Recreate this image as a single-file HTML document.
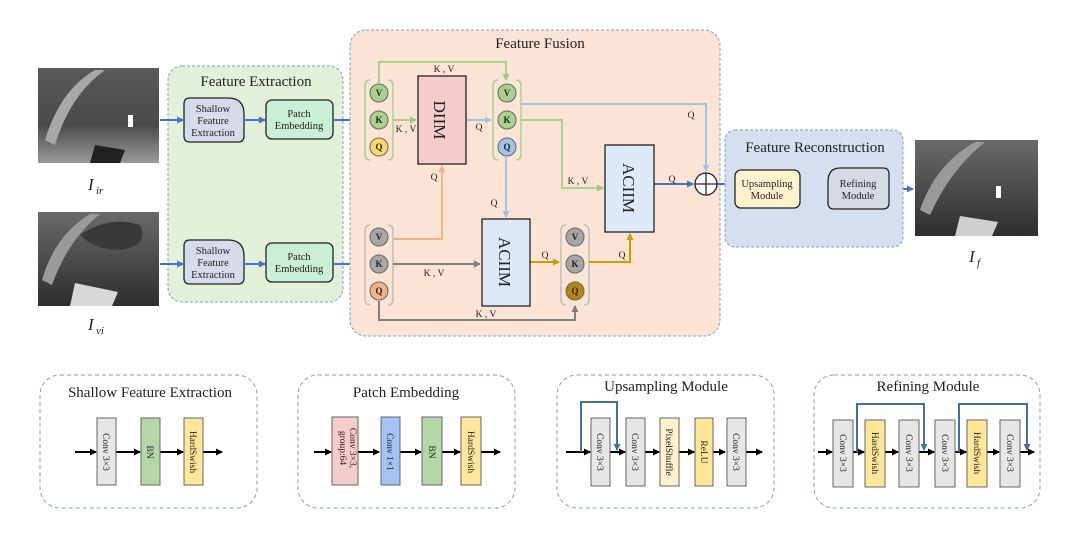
<!DOCTYPE html>
<html><head><meta charset="utf-8"><style>
html,body{margin:0;padding:0;background:#fff}
svg{display:block}
text{font-family:"Liberation Serif",serif;fill:#222}
</style></head><body>
<svg width="1080" height="536" viewBox="0 0 1080 536" xmlns="http://www.w3.org/2000/svg">
<defs>
<marker id="ab" markerWidth="8" markerHeight="8" refX="6" refY="4" orient="auto" markerUnits="userSpaceOnUse"><path d="M0,0.5 L7,4 L0,7.5 z" fill="#4472c4"/></marker>
<marker id="ag" markerWidth="8" markerHeight="8" refX="6" refY="4" orient="auto" markerUnits="userSpaceOnUse"><path d="M0,0.5 L7,4 L0,7.5 z" fill="#8fcf7a"/></marker>
<marker id="alb" markerWidth="8" markerHeight="8" refX="6" refY="4" orient="auto" markerUnits="userSpaceOnUse"><path d="M0,0.5 L7,4 L0,7.5 z" fill="#9dc3e6"/></marker>
<marker id="ao" markerWidth="8" markerHeight="8" refX="6" refY="4" orient="auto" markerUnits="userSpaceOnUse"><path d="M0,0.5 L7,4 L0,7.5 z" fill="#f4b183"/></marker>
<marker id="agr" markerWidth="8" markerHeight="8" refX="6" refY="4" orient="auto" markerUnits="userSpaceOnUse"><path d="M0,0.5 L7,4 L0,7.5 z" fill="#7f7f7f"/></marker>
<marker id="ay" markerWidth="8" markerHeight="8" refX="6" refY="4" orient="auto" markerUnits="userSpaceOnUse"><path d="M0,0.5 L7,4 L0,7.5 z" fill="#c9a000"/></marker>
<marker id="ak" markerWidth="8" markerHeight="8" refX="6" refY="4" orient="auto" markerUnits="userSpaceOnUse"><path d="M0,0.5 L7,4 L0,7.5 z" fill="#000"/></marker>
<marker id="as" markerWidth="8" markerHeight="8" refX="6" refY="4" orient="auto" markerUnits="userSpaceOnUse"><path d="M0,0.5 L7,4 L0,7.5 z" fill="#3e6fa6"/></marker>
<linearGradient id="g1" x1="0" y1="0" x2="0" y2="1"><stop offset="0" stop-color="#5a5a5a"/><stop offset="0.6" stop-color="#4a4a4a"/><stop offset="1" stop-color="#9a9a9a"/></linearGradient>
<linearGradient id="g2" x1="0" y1="0" x2="0" y2="1"><stop offset="0" stop-color="#6a6a6a"/><stop offset="1" stop-color="#2e2e2e"/></linearGradient>
</defs>

<rect x="38" y="68" width="121" height="95" fill="url(#g1)"/>
<path d="M45,140 Q60,90 95,70 L105,70 Q70,95 55,145 z" fill="#a8a8a8"/>
<rect x="128" y="115" width="5" height="12" fill="#fff"/>
<path d="M95,145 L125,150 L120,163 L90,163 z" fill="#222"/>
<text x="88" y="190" font-size="17" font-style="italic">I</text><text x="96" y="194" font-size="11" font-style="italic">ir</text>

<rect x="38" y="212" width="121" height="94" fill="url(#g2)"/>
<path d="M42,280 Q55,235 90,214 L100,214 Q68,240 52,285 z" fill="#9a9a9a"/>
<path d="M75,283 L118,292 L112,306 L70,306 z" fill="#d8d8d8"/>
<path d="M80,235 Q110,215 140,225 Q150,245 120,250 Q95,250 80,235z" fill="#3a3a3a"/>
<text x="88" y="330" font-size="17" font-style="italic">I</text><text x="96" y="334" font-size="11" font-style="italic">vi</text>

<rect x="915" y="140" width="123" height="96" fill="url(#g2)"/>
<path d="M920,210 Q935,165 975,142 L985,142 Q950,170 930,215 z" fill="#9a9a9a"/>
<rect x="996" y="186" width="5" height="12" fill="#fff"/>
<path d="M960,216 L998,222 L992,236 L955,236 z" fill="#cfcfcf"/>
<text x="969" y="262" font-size="17" font-style="italic">I</text><text x="977" y="266" font-size="11" font-style="italic">f</text>

<rect x="168" y="66" width="175" height="236" rx="14" fill="#e2efd9" stroke="#7f9fbf" stroke-dasharray="3,2"/>
<text x="256" y="86" font-size="15" text-anchor="middle">Feature Extraction</text>
<g stroke="#222" stroke-width="1.3">
<path d="M196,98 L228,98 Q244,98 244,114 L244,136 Q244,142 238,142 L190,142 Q184,142 184,136 L184,104 Q184,98 190,98 z" fill="#d5dbe8"/>
<rect x="266" y="100" width="67" height="39" rx="6" fill="#c9f0d6"/>
<path d="M196,240 L228,240 Q244,240 244,256 L244,278 Q244,284 238,284 L190,284 Q184,284 184,278 L184,246 Q184,240 190,240 z" fill="#d5dbe8"/>
<rect x="266" y="243" width="67" height="39" rx="6" fill="#c9f0d6"/>
</g>
<g font-size="10.5" text-anchor="middle">
<text x="213" y="112">Shallow</text><text x="213" y="124">Feature</text><text x="213" y="136">Extraction</text>
<text x="299" y="117">Patch</text><text x="299" y="129">Embedding</text>
<text x="213" y="254">Shallow</text><text x="213" y="266">Feature</text><text x="213" y="278">Extraction</text>
<text x="299" y="260">Patch</text><text x="299" y="272">Embedding</text>
</g>
<g stroke="#4472c4" stroke-width="2" fill="none" marker-end="url(#ab)">
<line x1="160" y1="120" x2="183" y2="120"/><line x1="244" y1="120" x2="265" y2="120"/>
<line x1="160" y1="264" x2="183" y2="264"/><line x1="244" y1="264" x2="265" y2="264"/>
<line x1="333" y1="120" x2="365" y2="120"/><line x1="333" y1="264" x2="365" y2="264"/>
</g>

<rect x="350" y="30" width="370" height="306" rx="16" fill="#fbe3d5" stroke="#7f9fbf" stroke-dasharray="3,2"/>
<text x="540" y="48" font-size="15" text-anchor="middle">Feature Fusion</text>

<g fill="none" stroke-width="1.5">
<path d="M370,80 Q365,80 365,86 L365,154 Q365,160 370,160" stroke="#a9d18e"/>
<path d="M388,80 Q393,80 393,86 L393,154 Q393,160 388,160" stroke="#a9d18e"/>
<path d="M498,80 Q493,80 493,86 L493,154 Q493,160 498,160" stroke="#a9d18e"/>
<path d="M516,80 Q521,80 521,86 L521,154 Q521,160 516,160" stroke="#a9d18e"/>
<path d="M370,225 Q365,225 365,231 L365,299 Q365,305 370,305" stroke="#bfbfbf"/>
<path d="M388,225 Q393,225 393,231 L393,299 Q393,305 388,305" stroke="#bfbfbf"/>
<path d="M566,225 Q561,225 561,231 L561,299 Q561,305 566,305" stroke="#bfbfbf"/>
<path d="M584,225 Q589,225 589,231 L589,299 Q589,305 584,305" stroke="#bfbfbf"/>
</g>

<g fill="none" stroke-width="2">
<path d="M379,83 L379,62 L506,62 L506,80" stroke="#a9d18e" marker-end="url(#ag)"/>
<line x1="393" y1="120" x2="416" y2="120" stroke="#a9d18e" marker-end="url(#ag)"/>
<line x1="466" y1="120" x2="491" y2="120" stroke="#9dc3e6" marker-end="url(#alb)"/>
<path d="M521,104 L706,104 L706,171" stroke="#9dc3e6" marker-end="url(#alb)"/>
<path d="M521,120 L562,120 L562,188 L603,188" stroke="#a9d18e" marker-end="url(#ag)"/>
<line x1="506" y1="157" x2="506" y2="217" stroke="#9dc3e6" marker-end="url(#alb)"/>
<path d="M393,239 L442,239 L442,166" stroke="#f4b183" marker-end="url(#ao)"/>
<line x1="393" y1="264" x2="480" y2="264" stroke="#7f7f7f" marker-end="url(#agr)"/>
<path d="M379,301 L379,320 L575,320 L575,306" stroke="#7f7f7f" marker-end="url(#agr)"/>
<line x1="530" y1="262" x2="559" y2="262" stroke="#c9a000" marker-end="url(#ay)"/>
<path d="M589,262 L630,262 L630,234" stroke="#c9a000" marker-end="url(#ay)"/>
<line x1="654" y1="184" x2="693" y2="184" stroke="#4472c4" marker-end="url(#ab)"/>
<line x1="717" y1="184" x2="733" y2="184" stroke="#4472c4" marker-end="url(#ab)"/>
<line x1="800" y1="189" x2="826" y2="189" stroke="#4472c4" marker-end="url(#ab)"/>
<line x1="889" y1="189" x2="913" y2="189" stroke="#4472c4" marker-end="url(#ab)"/>
</g>
<g font-size="9.5" text-anchor="middle">
<text x="444" y="72">K , V</text>
<text x="406" y="132">K , V</text>
<text x="479" y="130">Q</text>
<text x="691" y="118">Q</text>
<text x="578" y="184">K , V</text>
<text x="434" y="180">Q</text>
<text x="494" y="206">Q</text>
<text x="434" y="276">K , V</text>
<text x="486" y="317">K , V</text>
<text x="545" y="258">Q</text>
<text x="622" y="258">Q</text>
<text x="672" y="182">Q</text>
</g>

<g stroke="#666" stroke-width="1">
<circle cx="379" cy="93" r="9" fill="#a9d18e"/><circle cx="379" cy="120" r="9" fill="#a9d18e"/><circle cx="379" cy="147" r="9" fill="#ffd966"/>
<circle cx="507" cy="93" r="9" fill="#a9d18e"/><circle cx="507" cy="120" r="9" fill="#a9d18e"/><circle cx="507" cy="147" r="9" fill="#9dc3e6"/>
<circle cx="379" cy="237" r="9" fill="#a6a6a6"/><circle cx="379" cy="264" r="9" fill="#a6a6a6"/><circle cx="379" cy="291" r="9" fill="#f4b183"/>
<circle cx="575" cy="237" r="9" fill="#a6a6a6"/><circle cx="575" cy="264" r="9" fill="#a6a6a6"/><circle cx="575" cy="291" r="9" fill="#b8860b"/>
</g>
<g font-size="9" font-weight="bold" text-anchor="middle">
<text x="379" y="96">V</text><text x="379" y="123">K</text><text x="379" y="150">Q</text>
<text x="507" y="96">V</text><text x="507" y="123">K</text><text x="507" y="150">Q</text>
<text x="379" y="240">V</text><text x="379" y="267">K</text><text x="379" y="294">Q</text>
<text x="575" y="240">V</text><text x="575" y="267">K</text><text x="575" y="294">Q</text>
</g>

<rect x="418" y="76" width="48" height="88" fill="#f4cccc" stroke="#222" stroke-width="1.3"/>
<text transform="translate(434,120) rotate(90)" font-size="17" text-anchor="middle">DIIM</text>
<rect x="482" y="219" width="48" height="87" fill="#dde9f6" stroke="#222" stroke-width="1.3"/>
<text transform="translate(499,262) rotate(90)" font-size="17" text-anchor="middle">ACIIM</text>
<rect x="605" y="145" width="49" height="87" fill="#dde9f6" stroke="#222" stroke-width="1.3"/>
<text transform="translate(623,188) rotate(90)" font-size="17" text-anchor="middle">ACIIM</text>
<circle cx="706" cy="184" r="11" fill="#fff" stroke="#222" stroke-width="1.3"/>
<line x1="695" y1="184" x2="717" y2="184" stroke="#222" stroke-width="1.3"/>
<line x1="706" y1="173" x2="706" y2="195" stroke="#222" stroke-width="1.3"/>

<rect x="725" y="130" width="178" height="117" rx="10" fill="#d6dff0" stroke="#7f9fbf" stroke-dasharray="3,2"/>
<text x="815" y="152" font-size="15" text-anchor="middle">Feature Reconstruction</text>
<rect x="735" y="170" width="65" height="38" rx="6" fill="#fff2cc" stroke="#222" stroke-width="1.3"/>
<path d="M840,168 L883,168 Q889,168 889,174 L889,203 Q889,209 883,209 L834,209 Q828,209 828,203 L828,182 Q828,168 840,168 z" fill="#d4d9e3" stroke="#222" stroke-width="1.3"/>
<g font-size="10.5" text-anchor="middle">
<text x="767" y="187">Upsampling</text><text x="767" y="199">Module</text>
<text x="858" y="187">Refining</text><text x="858" y="199">Module</text>
</g>

<g fill="#fff" stroke="#7f9fbf" stroke-dasharray="4,3">
<rect x="40" y="375" width="217" height="133" rx="20"/>
<rect x="298" y="375" width="217" height="133" rx="20"/>
<rect x="557" y="375" width="217" height="133" rx="20"/>
<rect x="814" y="375" width="226" height="133" rx="20"/>
</g>
<g font-size="15" text-anchor="middle">
<text x="150" y="397">Shallow Feature Extraction</text>
<text x="406" y="397">Patch Embedding</text>
<text x="666" y="391">Upsampling Module</text>
<text x="928" y="391">Refining Module</text>
</g>

<g stroke="#000" stroke-width="2" fill="none" marker-end="url(#ak)">
<line x1="75" y1="452" x2="96" y2="452"/><line x1="116" y1="452" x2="140" y2="452"/><line x1="160" y1="452" x2="183" y2="452"/><line x1="203" y1="452" x2="222" y2="452"/>
<line x1="314" y1="452" x2="331" y2="452"/><line x1="358" y1="452" x2="379" y2="452"/><line x1="400" y1="452" x2="421" y2="452"/><line x1="442" y1="452" x2="460" y2="452"/><line x1="481" y1="452" x2="500" y2="452"/>
<line x1="566" y1="452" x2="590" y2="452"/><line x1="610" y1="452" x2="625" y2="452"/><line x1="645" y1="452" x2="659" y2="452"/><line x1="679" y1="452" x2="694" y2="452"/><line x1="713" y1="452" x2="725" y2="452"/><line x1="746" y1="452" x2="762" y2="452"/>
<line x1="818" y1="452" x2="832" y2="452"/><line x1="853" y1="452" x2="864" y2="452"/><line x1="885" y1="452" x2="898" y2="452"/><line x1="919" y1="452" x2="934" y2="452"/><line x1="955" y1="452" x2="966" y2="452"/><line x1="987" y1="452" x2="999" y2="452"/><line x1="1020" y1="452" x2="1034" y2="452"/>
</g>
<g stroke="#3e6fa6" stroke-width="2" fill="none" marker-end="url(#as)">
<path d="M581,452 L581,402 L617,402 L617,450"/>
<path d="M857,452 L857,404 L924,404 L924,450"/>
<path d="M959,452 L959,404 L1027,404 L1027,450"/>
</g>

<g stroke="#666" stroke-width="1">
<rect x="97" y="418" width="19" height="67" fill="#e6e6e6"/>
<rect x="141" y="418" width="19" height="67" fill="#b5d7a8"/>
<rect x="184" y="418" width="19" height="67" fill="#ffe699"/>
<rect x="332" y="417" width="26" height="68" fill="#f4cccc"/>
<rect x="381" y="417" width="19" height="68" fill="#a4c2f4"/>
<rect x="422" y="417" width="20" height="68" fill="#b5d7a8"/>
<rect x="461" y="417" width="20" height="68" fill="#ffe699"/>
<rect x="591" y="418" width="19" height="68" fill="#e6e6e6"/>
<rect x="626" y="418" width="19" height="68" fill="#e6e6e6"/>
<rect x="660" y="418" width="19" height="68" fill="#fff2cc"/>
<rect x="695" y="418" width="18" height="68" fill="#ffe699"/>
<rect x="727" y="418" width="19" height="68" fill="#e6e6e6"/>
<rect x="833" y="420" width="20" height="67" fill="#e6e6e6"/>
<rect x="865" y="420" width="20" height="67" fill="#ffe699"/>
<rect x="899" y="420" width="20" height="67" fill="#e6e6e6"/>
<rect x="935" y="420" width="20" height="67" fill="#e6e6e6"/>
<rect x="967" y="420" width="20" height="67" fill="#ffe699"/>
<rect x="1000" y="420" width="20" height="67" fill="#e6e6e6"/>
</g>
<g font-size="9.5" text-anchor="middle">
<text transform="translate(103,452) rotate(90)">Conv 3×3</text>
<text transform="translate(147,452) rotate(90)">BN</text>
<text transform="translate(190,452) rotate(90)">HardSwish</text>
<text transform="translate(350,448) rotate(90)">Conv 3×3,</text>
<text transform="translate(340,448) rotate(90)">group:64</text>
<text transform="translate(387,452) rotate(90)">Conv 1×1</text>
<text transform="translate(429,452) rotate(90)">BN</text>
<text transform="translate(468,452) rotate(90)">HardSwish</text>
<text transform="translate(597,452) rotate(90)">Conv 3×3</text>
<text transform="translate(632,452) rotate(90)">Conv 3×3</text>
<text transform="translate(666,452) rotate(90)">PixelShuffle</text>
<text transform="translate(701,452) rotate(90)">ReLU</text>
<text transform="translate(733,452) rotate(90)">Conv 3×3</text>
<text transform="translate(840,453) rotate(90)">Conv 3×3</text>
<text transform="translate(872,453) rotate(90)">HardSwish</text>
<text transform="translate(906,453) rotate(90)">Conv 3×3</text>
<text transform="translate(942,453) rotate(90)">Conv 3×3</text>
<text transform="translate(974,453) rotate(90)">HardSwish</text>
<text transform="translate(1007,453) rotate(90)">Conv 3×3</text>
</g>
</svg>
</body></html>
